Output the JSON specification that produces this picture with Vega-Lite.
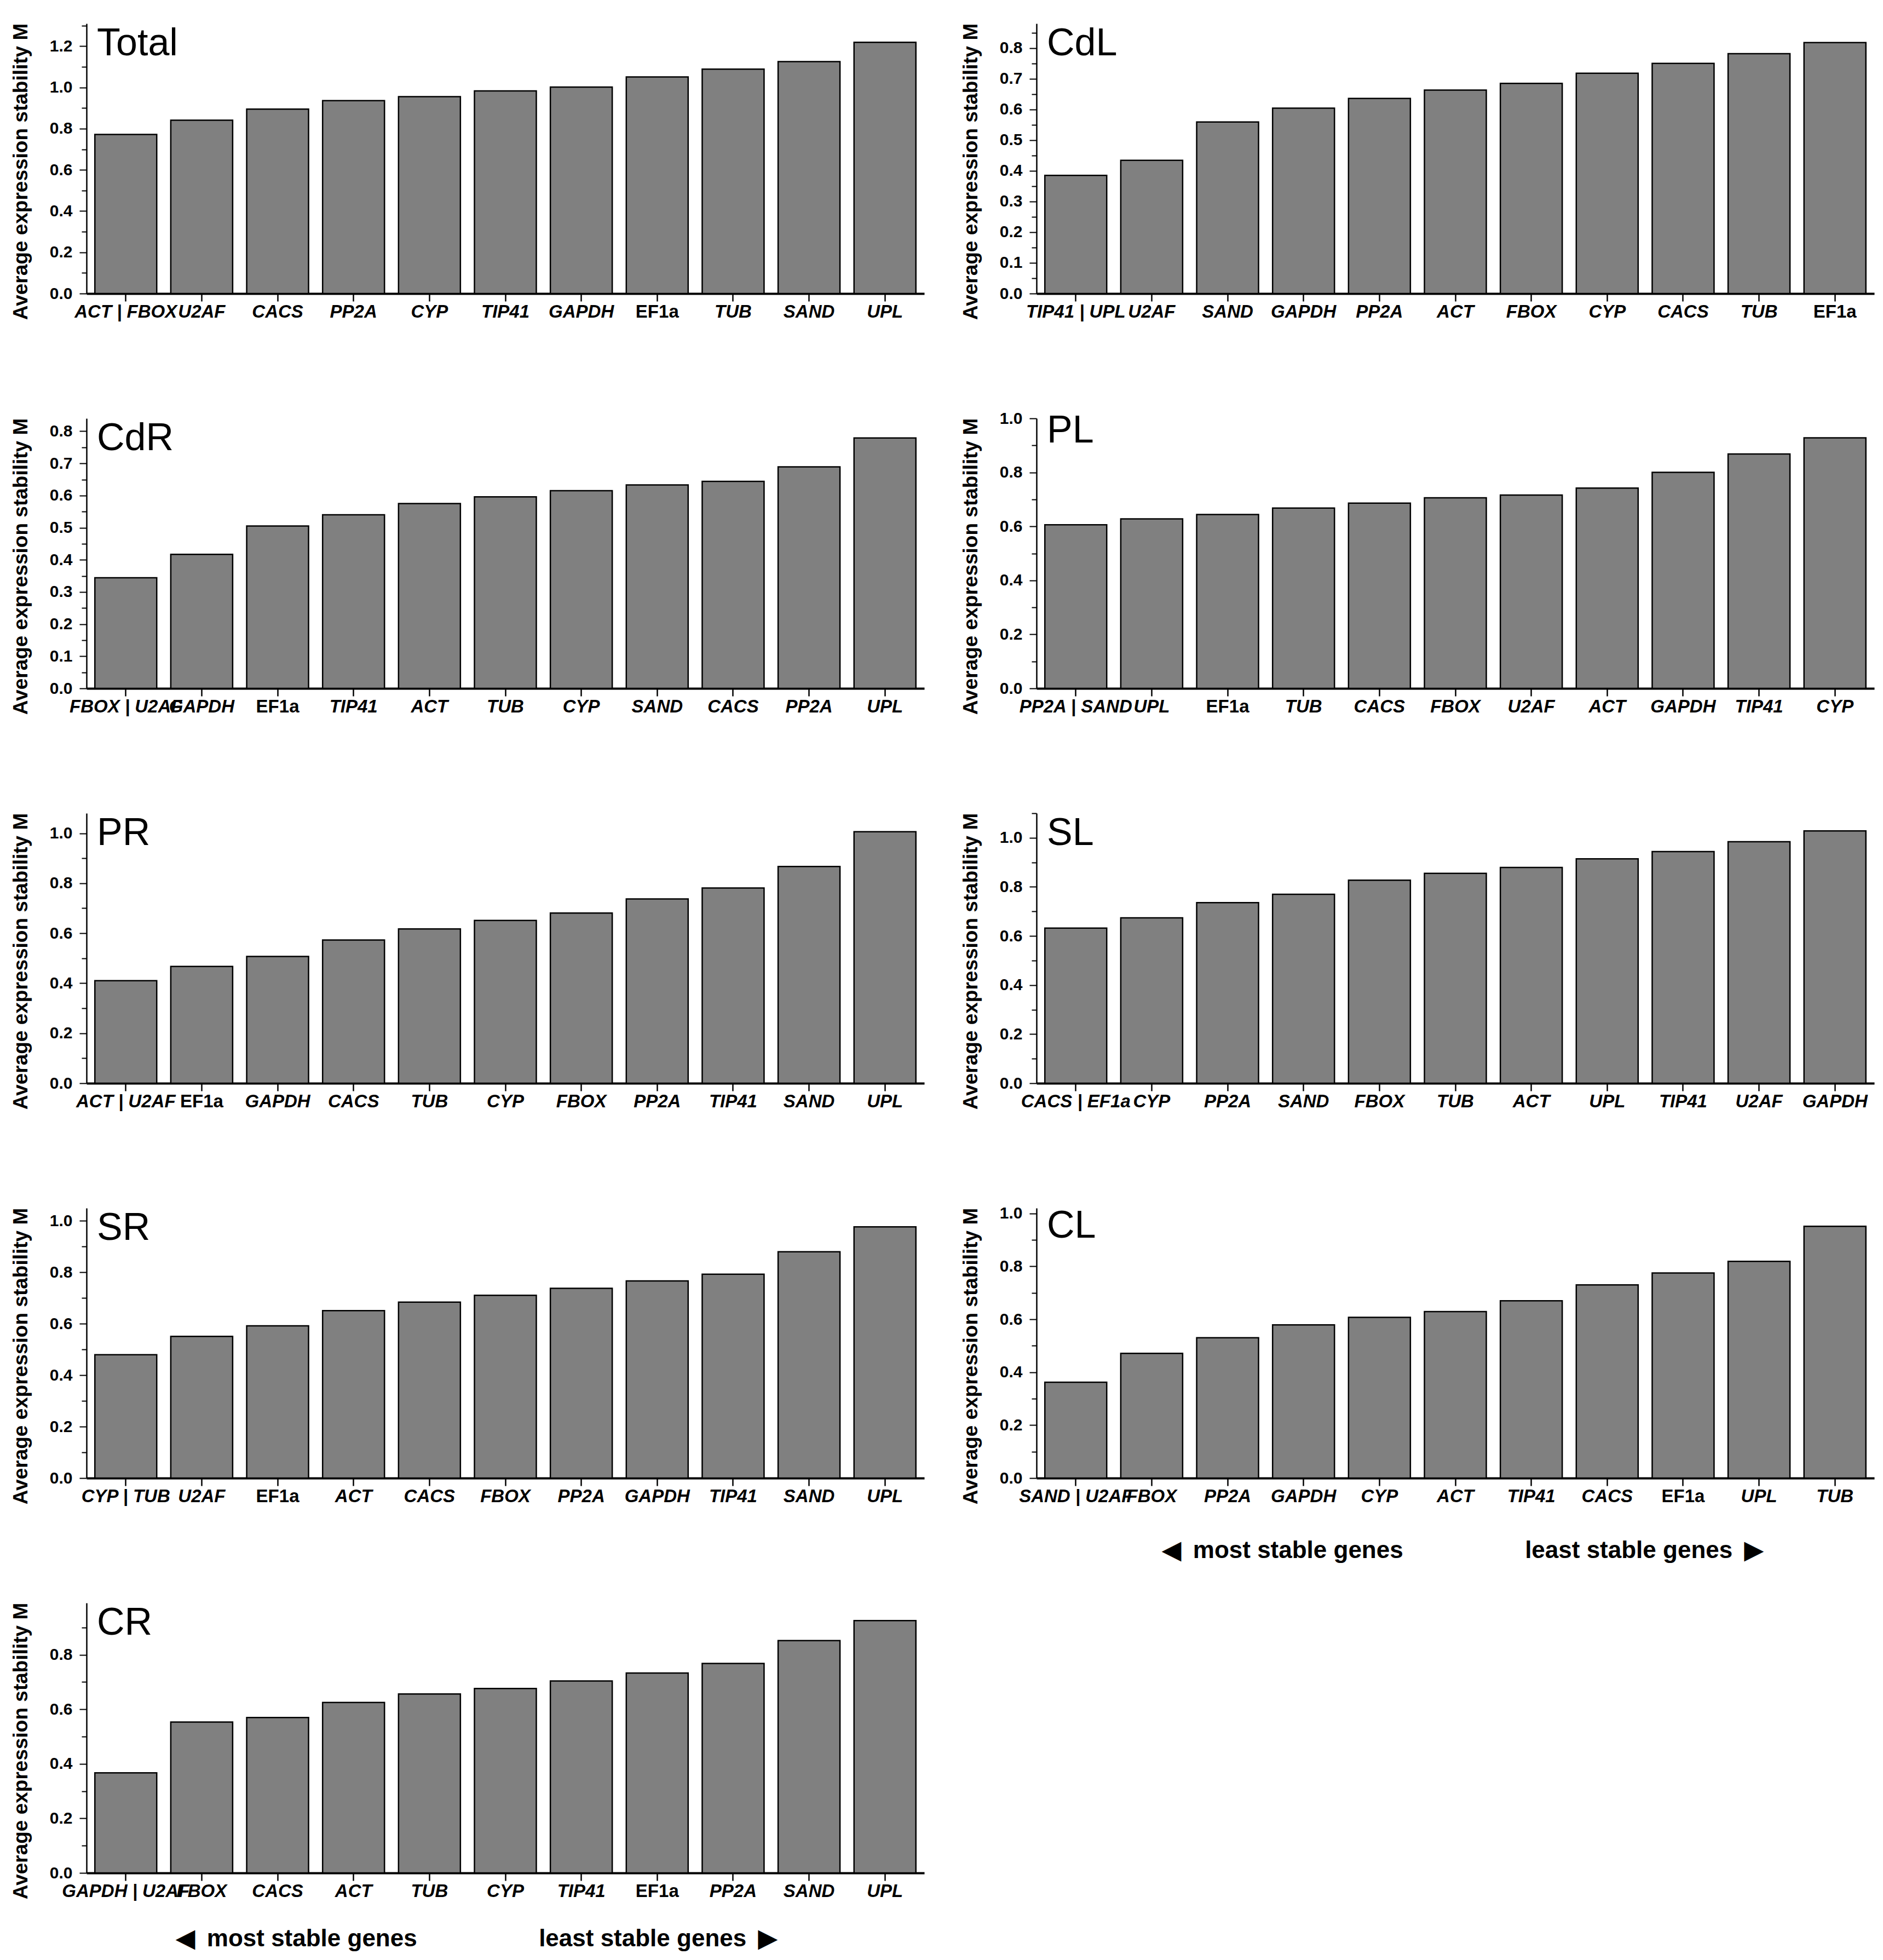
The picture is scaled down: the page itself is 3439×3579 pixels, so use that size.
{
  "$schema": "https://vega.github.io/schema/vega-lite/v6.json",
  "description": "Average expression stability M of candidate reference genes per sample set",
  "padding": {"left": 19, "top": 42, "right": 10, "bottom": 10},
  "data": {
    "values": [
      {"panel": "Total", "gene": "ACT | FBOX", "M": 0.772},
      {"panel": "Total", "gene": "U2AF", "M": 0.841},
      {"panel": "Total", "gene": "CACS", "M": 0.895},
      {"panel": "Total", "gene": "PP2A", "M": 0.936},
      {"panel": "Total", "gene": "CYP", "M": 0.955},
      {"panel": "Total", "gene": "TIP41", "M": 0.983},
      {"panel": "Total", "gene": "GAPDH", "M": 1.002},
      {"panel": "Total", "gene": "EF1a", "M": 1.051},
      {"panel": "Total", "gene": "TUB", "M": 1.089},
      {"panel": "Total", "gene": "SAND", "M": 1.125},
      {"panel": "Total", "gene": "UPL", "M": 1.219},

      {"panel": "CdL", "gene": "TIP41 | UPL", "M": 0.385},
      {"panel": "CdL", "gene": "U2AF", "M": 0.434},
      {"panel": "CdL", "gene": "SAND", "M": 0.559},
      {"panel": "CdL", "gene": "GAPDH", "M": 0.604},
      {"panel": "CdL", "gene": "PP2A", "M": 0.636},
      {"panel": "CdL", "gene": "ACT", "M": 0.663},
      {"panel": "CdL", "gene": "FBOX", "M": 0.685},
      {"panel": "CdL", "gene": "CYP", "M": 0.718},
      {"panel": "CdL", "gene": "CACS", "M": 0.75},
      {"panel": "CdL", "gene": "TUB", "M": 0.782},
      {"panel": "CdL", "gene": "EF1a", "M": 0.818},

      {"panel": "CdR", "gene": "FBOX | U2AF", "M": 0.344},
      {"panel": "CdR", "gene": "GAPDH", "M": 0.417},
      {"panel": "CdR", "gene": "EF1a", "M": 0.505},
      {"panel": "CdR", "gene": "TIP41", "M": 0.54},
      {"panel": "CdR", "gene": "ACT", "M": 0.575},
      {"panel": "CdR", "gene": "TUB", "M": 0.596},
      {"panel": "CdR", "gene": "CYP", "M": 0.615},
      {"panel": "CdR", "gene": "SAND", "M": 0.633},
      {"panel": "CdR", "gene": "CACS", "M": 0.644},
      {"panel": "CdR", "gene": "PP2A", "M": 0.689},
      {"panel": "CdR", "gene": "UPL", "M": 0.779},

      {"panel": "PL", "gene": "PP2A | SAND", "M": 0.606},
      {"panel": "PL", "gene": "UPL", "M": 0.628},
      {"panel": "PL", "gene": "EF1a", "M": 0.644},
      {"panel": "PL", "gene": "TUB", "M": 0.668},
      {"panel": "PL", "gene": "CACS", "M": 0.686},
      {"panel": "PL", "gene": "FBOX", "M": 0.706},
      {"panel": "PL", "gene": "U2AF", "M": 0.716},
      {"panel": "PL", "gene": "ACT", "M": 0.742},
      {"panel": "PL", "gene": "GAPDH", "M": 0.8},
      {"panel": "PL", "gene": "TIP41", "M": 0.868},
      {"panel": "PL", "gene": "CYP", "M": 0.928},

      {"panel": "PR", "gene": "ACT | U2AF", "M": 0.41},
      {"panel": "PR", "gene": "EF1a", "M": 0.467},
      {"panel": "PR", "gene": "GAPDH", "M": 0.507},
      {"panel": "PR", "gene": "CACS", "M": 0.573},
      {"panel": "PR", "gene": "TUB", "M": 0.617},
      {"panel": "PR", "gene": "CYP", "M": 0.651},
      {"panel": "PR", "gene": "FBOX", "M": 0.681},
      {"panel": "PR", "gene": "PP2A", "M": 0.737},
      {"panel": "PR", "gene": "TIP41", "M": 0.781},
      {"panel": "PR", "gene": "SAND", "M": 0.867},
      {"panel": "PR", "gene": "UPL", "M": 1.006},

      {"panel": "SL", "gene": "CACS | EF1a", "M": 0.632},
      {"panel": "SL", "gene": "CYP", "M": 0.674},
      {"panel": "SL", "gene": "PP2A", "M": 0.736},
      {"panel": "SL", "gene": "SAND", "M": 0.77},
      {"panel": "SL", "gene": "FBOX", "M": 0.827},
      {"panel": "SL", "gene": "TUB", "M": 0.855},
      {"panel": "SL", "gene": "ACT", "M": 0.879},
      {"panel": "SL", "gene": "UPL", "M": 0.914},
      {"panel": "SL", "gene": "TIP41", "M": 0.944},
      {"panel": "SL", "gene": "U2AF", "M": 0.984},
      {"panel": "SL", "gene": "GAPDH", "M": 1.028},

      {"panel": "SR", "gene": "CYP | TUB", "M": 0.48},
      {"panel": "SR", "gene": "U2AF", "M": 0.551},
      {"panel": "SR", "gene": "EF1a", "M": 0.592},
      {"panel": "SR", "gene": "ACT", "M": 0.651},
      {"panel": "SR", "gene": "CACS", "M": 0.684},
      {"panel": "SR", "gene": "FBOX", "M": 0.711},
      {"panel": "SR", "gene": "PP2A", "M": 0.738},
      {"panel": "SR", "gene": "GAPDH", "M": 0.767},
      {"panel": "SR", "gene": "TIP41", "M": 0.793},
      {"panel": "SR", "gene": "SAND", "M": 0.88},
      {"panel": "SR", "gene": "UPL", "M": 0.977},

      {"panel": "CL", "gene": "SAND | U2AF", "M": 0.362},
      {"panel": "CL", "gene": "FBOX", "M": 0.471},
      {"panel": "CL", "gene": "PP2A", "M": 0.53},
      {"panel": "CL", "gene": "GAPDH", "M": 0.579},
      {"panel": "CL", "gene": "CYP", "M": 0.607},
      {"panel": "CL", "gene": "ACT", "M": 0.629},
      {"panel": "CL", "gene": "TIP41", "M": 0.67},
      {"panel": "CL", "gene": "CACS", "M": 0.73},
      {"panel": "CL", "gene": "EF1a", "M": 0.775},
      {"panel": "CL", "gene": "UPL", "M": 0.819},
      {"panel": "CL", "gene": "TUB", "M": 0.951},

      {"panel": "CR", "gene": "GAPDH | U2AF", "M": 0.367},
      {"panel": "CR", "gene": "FBOX", "M": 0.553},
      {"panel": "CR", "gene": "CACS", "M": 0.57},
      {"panel": "CR", "gene": "ACT", "M": 0.625},
      {"panel": "CR", "gene": "TUB", "M": 0.656},
      {"panel": "CR", "gene": "CYP", "M": 0.676},
      {"panel": "CR", "gene": "TIP41", "M": 0.704},
      {"panel": "CR", "gene": "EF1a", "M": 0.733},
      {"panel": "CR", "gene": "PP2A", "M": 0.768},
      {"panel": "CR", "gene": "SAND", "M": 0.852},
      {"panel": "CR", "gene": "UPL", "M": 0.925}
    ]
  },
  "columns": 2,
  "spacing": {"row": 228, "column": 205},
  "bounds": "flush",
  "resolve": {"scale": {"x": "independent", "y": "independent"}},
  "concat": [
    {
      "title": "Total",
      "width": 1530, "height": 493,
      "transform": [{"filter": "datum.panel === 'Total'"}],
      "mark": {"type": "bar", "fill": "#808080", "stroke": "black", "strokeWidth": 2.5},
      "encoding": {
        "x": {"field": "gene", "type": "nominal", "sort": null, "title": null,
              "scale": {"paddingInner": 0.185, "paddingOuter": 0.11}},
        "y": {"field": "M", "type": "quantitative", "title": "Average expression stability M",
              "scale": {"domain": [0, 1.31], "nice": false},
              "axis": {"values": [0, 0.1, 0.2, 0.3, 0.4, 0.5, 0.6, 0.7, 0.8, 0.9, 1.0, 1.1, 1.2, 1.3],
                       "labelExpr": "abs(datum.value * 5 - round(datum.value * 5)) < 0.001 ? format(datum.value, '.1f') : ''",
                       "tickSize": {"condition": {"test": "abs(datum.value * 5 - round(datum.value * 5)) < 0.001", "value": 13}, "value": 9}}}
      }
    },
    {
      "title": "CdL",
      "width": 1530, "height": 493,
      "transform": [{"filter": "datum.panel === 'CdL'"}],
      "mark": {"type": "bar", "fill": "#808080", "stroke": "black", "strokeWidth": 2.5},
      "encoding": {
        "x": {"field": "gene", "type": "nominal", "sort": null, "title": null,
              "scale": {"paddingInner": 0.185, "paddingOuter": 0.11}},
        "y": {"field": "M", "type": "quantitative", "title": "Average expression stability M",
              "scale": {"domain": [0, 0.88], "nice": false},
              "axis": {"values": [0, 0.05, 0.1, 0.15, 0.2, 0.25, 0.3, 0.35, 0.4, 0.45, 0.5, 0.55, 0.6, 0.65, 0.7, 0.75, 0.8, 0.85],
                       "labelExpr": "abs(datum.value * 10 - round(datum.value * 10)) < 0.001 ? format(datum.value, '.1f') : ''",
                       "tickSize": {"condition": {"test": "abs(datum.value * 10 - round(datum.value * 10)) < 0.001", "value": 13}, "value": 9}}}
      }
    },
    {
      "title": "CdR",
      "width": 1530, "height": 493,
      "transform": [{"filter": "datum.panel === 'CdR'"}],
      "mark": {"type": "bar", "fill": "#808080", "stroke": "black", "strokeWidth": 2.5},
      "encoding": {
        "x": {"field": "gene", "type": "nominal", "sort": null, "title": null,
              "scale": {"paddingInner": 0.185, "paddingOuter": 0.11}},
        "y": {"field": "M", "type": "quantitative", "title": "Average expression stability M",
              "scale": {"domain": [0, 0.84], "nice": false},
              "axis": {"values": [0, 0.05, 0.1, 0.15, 0.2, 0.25, 0.3, 0.35, 0.4, 0.45, 0.5, 0.55, 0.6, 0.65, 0.7, 0.75, 0.8],
                       "labelExpr": "abs(datum.value * 10 - round(datum.value * 10)) < 0.001 ? format(datum.value, '.1f') : ''",
                       "tickSize": {"condition": {"test": "abs(datum.value * 10 - round(datum.value * 10)) < 0.001", "value": 13}, "value": 9}}}
      }
    },
    {
      "title": "PL",
      "width": 1530, "height": 493,
      "transform": [{"filter": "datum.panel === 'PL'"}],
      "mark": {"type": "bar", "fill": "#808080", "stroke": "black", "strokeWidth": 2.5},
      "encoding": {
        "x": {"field": "gene", "type": "nominal", "sort": null, "title": null,
              "scale": {"paddingInner": 0.185, "paddingOuter": 0.11}},
        "y": {"field": "M", "type": "quantitative", "title": "Average expression stability M",
              "scale": {"domain": [0, 1.0], "nice": false},
              "axis": {"values": [0, 0.1, 0.2, 0.3, 0.4, 0.5, 0.6, 0.7, 0.8, 0.9, 1.0],
                       "labelExpr": "abs(datum.value * 5 - round(datum.value * 5)) < 0.001 ? format(datum.value, '.1f') : ''",
                       "tickSize": {"condition": {"test": "abs(datum.value * 5 - round(datum.value * 5)) < 0.001", "value": 13}, "value": 9}}}
      }
    },
    {
      "title": "PR",
      "width": 1530, "height": 493,
      "transform": [{"filter": "datum.panel === 'PR'"}],
      "mark": {"type": "bar", "fill": "#808080", "stroke": "black", "strokeWidth": 2.5},
      "encoding": {
        "x": {"field": "gene", "type": "nominal", "sort": null, "title": null,
              "scale": {"paddingInner": 0.185, "paddingOuter": 0.11}},
        "y": {"field": "M", "type": "quantitative", "title": "Average expression stability M",
              "scale": {"domain": [0, 1.08], "nice": false},
              "axis": {"values": [0, 0.1, 0.2, 0.3, 0.4, 0.5, 0.6, 0.7, 0.8, 0.9, 1.0],
                       "labelExpr": "abs(datum.value * 5 - round(datum.value * 5)) < 0.001 ? format(datum.value, '.1f') : ''",
                       "tickSize": {"condition": {"test": "abs(datum.value * 5 - round(datum.value * 5)) < 0.001", "value": 13}, "value": 9}}}
      }
    },
    {
      "title": "SL",
      "width": 1530, "height": 493,
      "transform": [{"filter": "datum.panel === 'SL'"}],
      "mark": {"type": "bar", "fill": "#808080", "stroke": "black", "strokeWidth": 2.5},
      "encoding": {
        "x": {"field": "gene", "type": "nominal", "sort": null, "title": null,
              "scale": {"paddingInner": 0.185, "paddingOuter": 0.11}},
        "y": {"field": "M", "type": "quantitative", "title": "Average expression stability M",
              "scale": {"domain": [0, 1.1], "nice": false},
              "axis": {"values": [0, 0.1, 0.2, 0.3, 0.4, 0.5, 0.6, 0.7, 0.8, 0.9, 1.0, 1.1],
                       "labelExpr": "abs(datum.value * 5 - round(datum.value * 5)) < 0.001 ? format(datum.value, '.1f') : ''",
                       "tickSize": {"condition": {"test": "abs(datum.value * 5 - round(datum.value * 5)) < 0.001", "value": 13}, "value": 9}}}
      }
    },
    {
      "title": "SR",
      "width": 1530, "height": 493,
      "transform": [{"filter": "datum.panel === 'SR'"}],
      "mark": {"type": "bar", "fill": "#808080", "stroke": "black", "strokeWidth": 2.5},
      "encoding": {
        "x": {"field": "gene", "type": "nominal", "sort": null, "title": null,
              "scale": {"paddingInner": 0.185, "paddingOuter": 0.11}},
        "y": {"field": "M", "type": "quantitative", "title": "Average expression stability M",
              "scale": {"domain": [0, 1.05], "nice": false},
              "axis": {"values": [0, 0.1, 0.2, 0.3, 0.4, 0.5, 0.6, 0.7, 0.8, 0.9, 1.0],
                       "labelExpr": "abs(datum.value * 5 - round(datum.value * 5)) < 0.001 ? format(datum.value, '.1f') : ''",
                       "tickSize": {"condition": {"test": "abs(datum.value * 5 - round(datum.value * 5)) < 0.001", "value": 13}, "value": 9}}}
      }
    },
    {
      "title": "CL",
      "width": 1530, "height": 493,
      "transform": [{"filter": "datum.panel === 'CL'"}],
      "mark": {"type": "bar", "fill": "#808080", "stroke": "black", "strokeWidth": 2.5},
      "encoding": {
        "x": {"field": "gene", "type": "nominal", "sort": null,
              "title": "◀\u2002most stable genes \u2003\u2003\u2003\u2003\u2002 least stable genes\u2002▶",
              "scale": {"paddingInner": 0.185, "paddingOuter": 0.11},
              "axis": {"titleX": 778, "titlePadding": 60}},
        "y": {"field": "M", "type": "quantitative", "title": "Average expression stability M",
              "scale": {"domain": [0, 1.02], "nice": false},
              "axis": {"values": [0, 0.1, 0.2, 0.3, 0.4, 0.5, 0.6, 0.7, 0.8, 0.9, 1.0],
                       "labelExpr": "abs(datum.value * 5 - round(datum.value * 5)) < 0.001 ? format(datum.value, '.1f') : ''",
                       "tickSize": {"condition": {"test": "abs(datum.value * 5 - round(datum.value * 5)) < 0.001", "value": 13}, "value": 9}}}
      }
    },
    {
      "title": "CR",
      "width": 1530, "height": 493,
      "transform": [{"filter": "datum.panel === 'CR'"}],
      "mark": {"type": "bar", "fill": "#808080", "stroke": "black", "strokeWidth": 2.5},
      "encoding": {
        "x": {"field": "gene", "type": "nominal", "sort": null,
              "title": "◀\u2002most stable genes \u2003\u2003\u2003\u2003\u2002 least stable genes\u2002▶",
              "scale": {"paddingInner": 0.185, "paddingOuter": 0.11},
              "axis": {"titleX": 712, "titlePadding": 48}},
        "y": {"field": "M", "type": "quantitative", "title": "Average expression stability M",
              "scale": {"domain": [0, 0.99], "nice": false},
              "axis": {"values": [0, 0.1, 0.2, 0.3, 0.4, 0.5, 0.6, 0.7, 0.8, 0.9],
                       "labelExpr": "abs(datum.value * 5 - round(datum.value * 5)) < 0.001 ? format(datum.value, '.1f') : ''",
                       "tickSize": {"condition": {"test": "abs(datum.value * 5 - round(datum.value * 5)) < 0.001", "value": 13}, "value": 9}}}
      }
    }
  ],
  "config": {
    "font": "Liberation Sans",
    "background": "white",
    "view": {"stroke": null},
    "title": {"anchor": "start", "frame": "group", "fontSize": 70, "fontWeight": "normal", "color": "black", "offset": -74, "dx": 19},
    "axis": {"grid": false, "domainColor": "black", "tickColor": "black", "labelColor": "black", "titleColor": "black"},
    "axisX": {
      "labelAngle": 0, "labelFontSize": 33, "labelFontWeight": "bold",
      "labelFontStyle": {"condition": {"test": "datum.value === 'EF1a'", "value": "normal"}, "value": "italic"},
      "labelOverlap": false, "labelLimit": 0, "labelPadding": 3,
      "tickSize": 14, "tickWidth": 2.5, "domainWidth": 4,
      "titleFontSize": 44, "titleFontWeight": "bold"
    },
    "axisY": {
      "labelFontSize": 30, "labelFontWeight": "bold", "labelPadding": 13,
      "tickWidth": 2, "domainWidth": 2.5,
      "titleFontSize": 37, "titleFontWeight": "bold", "titlePadding": 33, "titleY": 270
    }
  }
}
